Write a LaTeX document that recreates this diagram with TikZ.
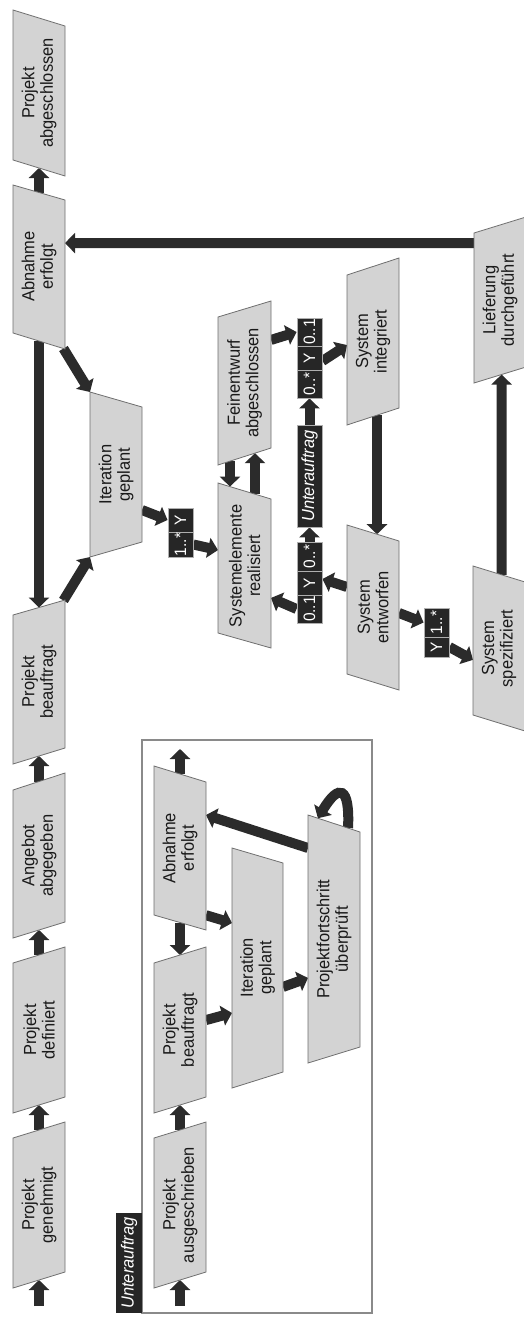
\documentclass[tikz,border=0pt]{standalone}
\usepackage{fontspec}
\setmainfont{Liberation Sans}[FakeStretch=0.94]
\usetikzlibrary{arrows.meta,calc,backgrounds}

\definecolor{boxfill}{HTML}{D3D3D3}
\definecolor{boxline}{HTML}{6E6E6E}
\definecolor{arrowc}{HTML}{2B2B2B}
\definecolor{chipc}{HTML}{262626}
\definecolor{chipline}{HTML}{AFAFAF}
\definecolor{framec}{HTML}{8A8A8A}

\tikzset{
  evtbox/.style={fill=boxfill, draw=boxline, line width=0.8pt},
  evtlabel/.style={rotate=90, align=center, inner sep=0pt,
    font=\fontsize{17.5}{18.5}\selectfont, text=black!90},
  flow/.style={draw=arrowc, line width=10pt, -{Triangle[width=20pt,length=10pt]}},
  cell/.style={rotate=90, fill=chipc, draw=chipline, line width=0.9pt, text=white,
    inner sep=0pt, minimum height=25pt, font=\fontsize{16.5}{18}\selectfont},
  tabnode/.style={rotate=90, fill=chipc, text=white, inner sep=0pt,
    font=\fontsize{17.5}{18.5}\selectfont\itshape},
  framebox/.style={draw=framec, line width=1.2pt},
}

% event shape: name, x left, x right, y left-top, y right-top, y left-bottom, y right-bottom, label
\newcommand\evt[8]{%
  \coordinate (#1-lt) at (#2,#4);
  \coordinate (#1-rt) at (#3,#5);
  \coordinate (#1-rb) at (#3,#7);
  \coordinate (#1-lb) at (#2,#6);
  \path[evtbox] (#1-lt) -- (#1-rt) -- (#1-rb) -- (#1-lb) -- cycle;
  \node[evtlabel] (#1) at ($.25*(#1-lt)+.25*(#1-rt)+.25*(#1-rb)+.25*(#1-lb)$) {#8};
}

\begin{document}
\begin{tikzpicture}[x=1pt, y=-1pt]
\useasboundingbox (0,0) rectangle (524,1319);

% sub-order frame with its tab
\draw[framebox] (142,740) rectangle (372,1313);
\node[tabnode, minimum width=100pt, minimum height=26pt] (tab) at (129,1263) {Unterauftrag};

% main project line
\evt{pa}{13}{65}{10}{26}{160}{176}{Projekt\\abgeschlossen}
\evt{ae}{13}{65}{185}{200}{333}{349}{Abnahme\\erfolgt}
\evt{pb}{13}{65}{615}{600}{764}{748}{Projekt\\beauftragt}
\evt{aa}{13}{65}{790}{773}{938}{922}{Angebot\\abgegeben}
\evt{pd}{13}{65}{963}{947}{1113}{1097}{Projekt\\definiert}
\evt{pg}{13}{65}{1138}{1122}{1288}{1272}{Projekt\\genehmigt}

% iteration and system development
\evt{ig}{90}{142}{392}{407}{557}{542}{Iteration\\geplant}
\evt{sr}{218}{271}{483}{499}{633}{648}{Systemelemente\\realisiert}
\evt{fa}{218}{271}{317}{301}{465}{448}{Feinentwurf\\abgeschlossen}
\evt{si}{347}{399}{275}{258}{425}{408}{System\\integriert}
\evt{se}{347}{399}{525}{541}{674}{690}{System\\entworfen}
\evt{ss}{473}{525}{566}{582}{715}{731}{System\\spezifiziert}
\evt{ld}{474}{526}{233}{217}{383}{367}{Lieferung\\durchgeführt}

% sub-order events
\evt{pau}{154}{206}{1138}{1122}{1288}{1272}{Projekt\\ausgeschrieben}
\evt{pbb}{154}{206}{963}{947}{1113}{1097}{Projekt\\beauftragt}
\evt{aeb}{154}{206}{766}{782}{915}{930}{Abnahme\\erfolgt}
\evt{igb}{232}{283}{848}{863}{1088}{1072}{Iteration\\geplant}
\evt{pf}{308}{360}{815}{832}{1063}{1047}{Projektfortschritt\\überprüft}

% multiplicity chips
\node[cell, minimum width=24pt] (c1a) at (180.5,520) {Y};
\node[cell, minimum width=25pt] (c1b) at (180.5,544.5) {1..*};

\node[cell, minimum width=28pt] (c2a) at (309.5,332) {0..1};
\node[cell, minimum width=24pt] (c2b) at (309.5,358) {Y};
\node[cell, minimum width=28pt] (c2c) at (309.5,384) {0..*};

\node[cell, minimum width=102pt, font=\fontsize{17.5}{18.5}\selectfont\itshape] (unt) at (309.5,476) {Unterauftrag};

\node[cell, minimum width=29pt] (c3a) at (309.5,556.5) {0..*};
\node[cell, minimum width=24pt] (c3b) at (309.5,583) {Y};
\node[cell, minimum width=28pt] (c3c) at (309.5,609) {0..1};

\node[cell, minimum width=29pt] (c4a) at (436.5,622.5) {1..*};
\node[cell, minimum width=20pt] (c4b) at (436.5,647) {Y};

\coordinate (in1) at (39,1306);
\coordinate (in2) at (180,1306);
\coordinate (out2) at (180,749);

\begin{pgfonlayer}{background}
% main line
\draw[flow] (in1) -- ($(pg-lb)!.5!(pg-rb)$);
\draw[flow] ($(pg-lt)!.5!(pg-rt)$) -- ($(pd-lb)!.5!(pd-rb)$);
\draw[flow] ($(pd-lt)!.5!(pd-rt)$) -- ($(aa-lb)!.5!(aa-rb)$);
\draw[flow] ($(aa-lt)!.5!(aa-rt)$) -- ($(pb-lb)!.5!(pb-rb)$);
\draw[flow] ($(pb-lt)!.97!(pb-rt)$) -- (ig-lb);
\draw[flow] ($(ae-lb)!.5!(ae-rb)$) -- ($(pb-lt)!.5!(pb-rt)$);
\draw[flow] ($(ae-lb)!.97!(ae-rb)$) -- (ig-lt);
\draw[flow] ($(ae-lt)!.5!(ae-rt)$) -- ($(pa-lb)!.5!(pa-rb)$);
\draw[flow] ($(ld-lt)!.067!(ld-lb)$) -- ($(ae-rt)!.289!(ae-rb)$);
\draw[flow] ($(ss-lt)!.55!(ss-rt)$) -- ($(ld-lb)!.53!(ld-rb)$);

% iteration and system development
\draw[flow] ($(ig-rt)!.763!(ig-rb)$) -- (c1a.north);
\draw[flow] (c1b.south) -- ($(sr-lt)!.447!(sr-lb)$);
\draw[flow] ($(fa-lb)!.226!(fa-rb)$) -- ($(sr-lt)!.226!(sr-rt)$);
\draw[flow] ($(sr-lt)!.698!(sr-rt)$) -- ($(fa-lb)!.698!(fa-rb)$);
\draw[flow] ($(fa-rt)!.265!(fa-rb)$) -- (c2a.north);
\draw[flow] ($(c2b.south)+(0,3)$) -- ($(si-lt)!.467!(si-lb)$);
\draw[flow] (unt.east) -- (c2c.west);
\draw[flow] (c3a.east) -- (unt.west);
\draw[flow] ($(se-lt)!.416!(se-lb)$) -- ($(c3b.south)+(0,-4)$);
\draw[flow] (c3c.north) -- ($(sr-rt)!.664!(sr-rb)$);
\draw[flow] ($(si-lb)!.577!(si-rb)$) -- ($(se-lt)!.577!(se-rt)$);
\draw[flow] ($(se-rt)!.483!(se-rb)$) -- (c4a.north);
\draw[flow] (c4b.south) -- ($(ss-lt)!.63!(ss-lb)$);

% sub-order
\draw[flow] (in2) -- ($(pau-lb)!.5!(pau-rb)$);
\draw[flow] ($(pau-lt)!.5!(pau-rt)$) -- ($(pbb-lb)!.5!(pbb-rb)$);
\draw[flow] ($(aeb-lt)!.5!(aeb-rt)$) -- (out2);
\draw[flow] ($(aeb-lb)!.5!(aeb-rb)$) -- ($(pbb-lt)!.5!(pbb-rt)$);
\draw[flow] ($(aeb-rt)!.9!(aeb-rb)$) -- ($(igb-lt)!.3125!(igb-lb)$);
\draw[flow] ($(pbb-rt)!.487!(pbb-rb)$) -- ($(igb-lt)!.6875!(igb-lb)$);
\draw[flow] ($(igb-rt)!.593!(igb-rb)$) -- ($(pf-lt)!.657!(pf-lb)$);
\draw[flow] ($(pf-lt)!.133!(pf-lb)$) -- ($(aeb-rt)!.223!(aeb-rb)$);
\draw[flow] ($(pf-lt)!.77!(pf-rt)$) .. controls (350,786) and (339,783) .. ($(pf-lt)!.19!(pf-rt)$);
\end{pgfonlayer}
\end{tikzpicture}
\end{document}
